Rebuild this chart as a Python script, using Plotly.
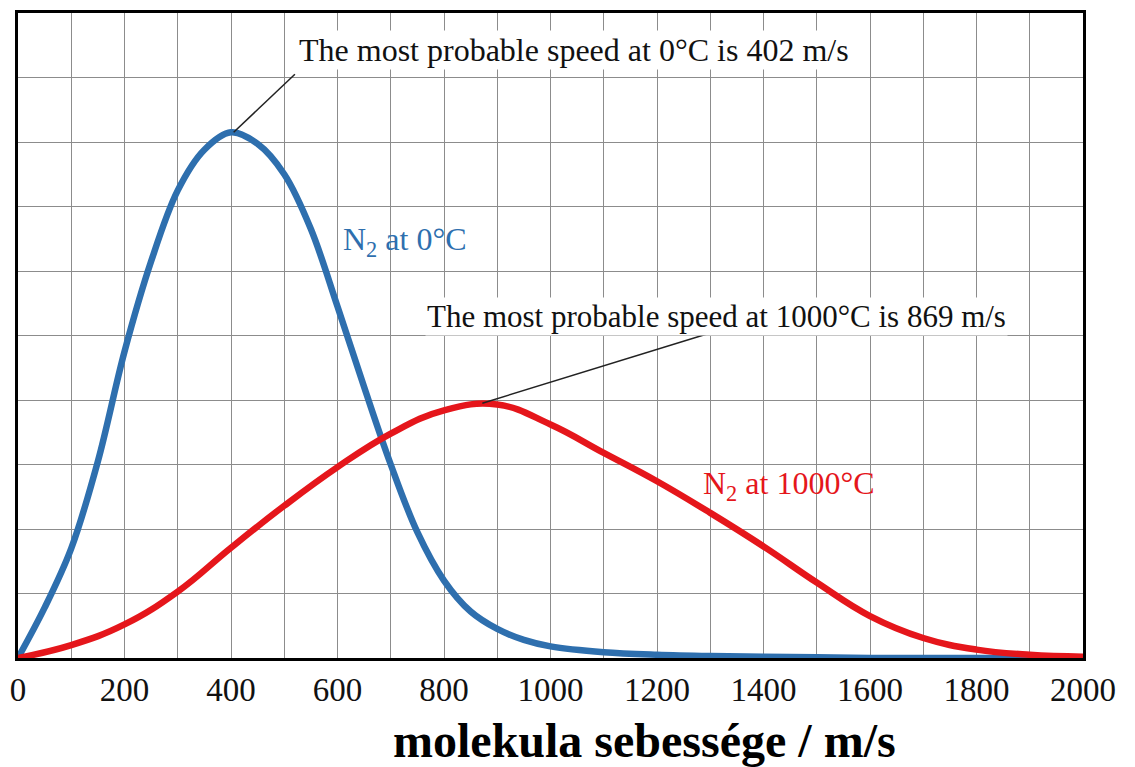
import plotly.graph_objects as go

# ---- data ----
speed_0C = [0, 50, 100, 150, 200, 250, 300, 350, 400, 450, 500, 550, 600, 650,
            700, 750, 800, 850, 900, 950, 1000, 1100, 1200, 1300, 1400, 1500,
            1600, 1800, 2000]
n2_0C = [0.0, 0.78, 1.7, 3.05, 4.75, 6.15, 7.25, 7.88, 8.15, 7.97, 7.5, 6.65, 5.45, 4.2,
         3.0, 1.95, 1.2, 0.72, 0.45, 0.28, 0.18, 0.09, 0.05, 0.03, 0.02, 0.01,
         0.0, 0.0, 0.0]
speed_1000C = [0, 100, 200, 300, 400, 500, 600, 700, 800, 900, 1000,
               1100, 1200, 1300, 1400, 1500, 1600, 1700, 1800, 1900, 2000]
n2_1000C = [0.0, 0.2, 0.52, 1.03, 1.71, 2.36, 2.96, 3.48, 3.84, 3.93, 3.62,
            3.18, 2.74, 2.25, 1.73, 1.17, 0.65, 0.31, 0.13, 0.05, 0.02]
tick_vals = [0, 200, 400, 600, 800, 1000, 1200, 1400, 1600, 1800, 2000]
tick_text = [str(v) for v in tick_vals]

ann_text_0 = "The most probable speed at 0°C is 402 m/s"
ann_text_1 = "The most probable speed at 1000°C is 869 m/s"
label_0 = "N<sub>2</sub> at 0°C"
label_1 = "N<sub>2</sub> at 1000°C"
x_title = "molekula sebessége / m/s"

# leader line endpoints (speed, value)
leader_0 = [(405, 8.15), (520, 9.05)]
leader_1 = [(872, 3.95), (1300, 5.04)]

BLUE = "#2E6FAE"
RED = "#E5161B"
SERIF = "Liberation Serif, Times New Roman, serif"

fig = go.Figure()
fig.add_trace(go.Scatter(x=speed_0C, y=n2_0C, mode="lines",
                         line=dict(color=BLUE, width=6.5, shape="spline", smoothing=1.0),
                         showlegend=False, hoverinfo="skip"))
fig.add_trace(go.Scatter(x=speed_1000C, y=n2_1000C, mode="lines",
                         line=dict(color=RED, width=6.5, shape="spline", smoothing=1.2),
                         showlegend=False, hoverinfo="skip"))

for (p0, p1) in (leader_0, leader_1):
    fig.add_shape(type="line", xref="x", yref="y", x0=p0[0], y0=p0[1], x1=p1[0], y1=p1[1],
                  line=dict(color="#222222", width=1.5))

fig.add_annotation(x=1044, y=9.43, xref="x", yref="y", text=ann_text_0, showarrow=False,
                   font=dict(family=SERIF, size=32, color="#111111"), bgcolor="white")
fig.add_annotation(x=1311, y=5.3, xref="x", yref="y", text=ann_text_1, showarrow=False,
                   font=dict(family=SERIF, size=31, color="#111111"), bgcolor="white")
fig.add_annotation(x=726, y=6.45, xref="x", yref="y", text=label_0, showarrow=False,
                   font=dict(family=SERIF, size=32, color=BLUE))
fig.add_annotation(x=1448, y=2.68, xref="x", yref="y", text=label_1, showarrow=False,
                   font=dict(family=SERIF, size=32, color=RED))
fig.add_annotation(x=0.588, y=-0.128, xref="paper", yref="paper", text="<b>" + x_title + "</b>",
                   showarrow=False, yanchor="middle",
                   font=dict(family=SERIF, size=48, color="black"))

grid_col = "#8c8c8c"
fig.update_xaxes(range=[0, 2000], tickvals=tick_vals, ticktext=tick_text,
                 showgrid=True, gridcolor=grid_col, gridwidth=1.2,
                 minor=dict(dtick=100, showgrid=True, gridcolor=grid_col, gridwidth=1.2),
                 showline=True, linecolor="black", linewidth=2.5, mirror=True,
                 zeroline=False, ticks="", ticklabelstandoff=1,
                 ticklabeloverflow="allow",
                 tickfont=dict(family=SERIF, size=33, color="#111111"))
fig.update_yaxes(range=[0, 10], dtick=1, showticklabels=False,
                 showgrid=True, gridcolor=grid_col, gridwidth=1.2,
                 showline=True, linecolor="black", linewidth=2.5, mirror=True,
                 zeroline=False, ticks="")

# the page body adds an 8px offset, so the figure is sized to fit the window
fig.update_layout(width=1127, height=759,
                  margin=dict(l=6, r=52, t=2, b=109),
                  paper_bgcolor="white", plot_bgcolor="white")

fig.write_html("out.html")
